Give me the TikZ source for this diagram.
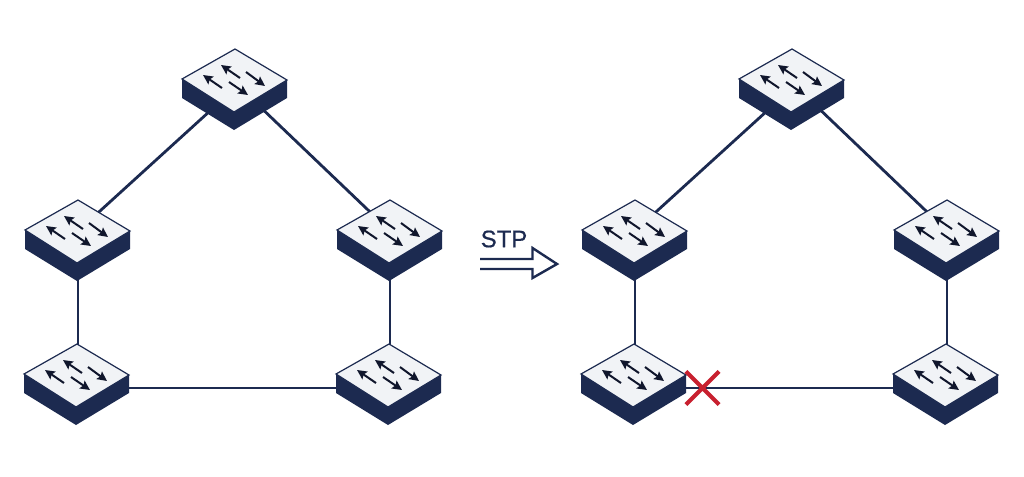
\documentclass[tikz,border=0pt]{standalone}
\usepackage{fontspec}
\setmainfont{Liberation Sans}
\newfontfamily\stpfont[FakeBold=0.6]{Liberation Sans}
\usepackage{xcolor}
\usetikzlibrary{shapes.misc, arrows.meta}
\definecolor{navy}{HTML}{1C2A50}
\definecolor{inknavy}{HTML}{10162C}
\definecolor{facegray}{HTML}{F1F3F6}
\definecolor{cutred}{HTML}{C8202F}
\tikzset{
  hub/.style={inner sep=0pt, minimum size=0pt},
  link/.style={draw=navy, line width=0.7mm},
  flow/.style={-{Stealth[length=2.4mm, width=2.3mm, inset=0.4mm]}, inknavy, line width=0.5mm},
  pics/switch/.style={code={
    \fill[navy] (-53,-1) -- (-53,18) -- (-1,50) -- (52,18) -- (52,0) -- (-1,32) -- cycle;
    \draw[navy, line width=0.3mm, fill=facegray] (0,-31) -- (52,0) -- (-1,32) -- (-53,-1) -- cycle;
    \draw[flow] (5,-2) -- (-14,-15);
    \draw[flow] (-13,8) -- (-32,-5);
    \draw[flow] (11,-8) -- (30,6);
    \draw[flow] (-6,2) -- (13,15);
  }}
}
\begin{document}
\begin{tikzpicture}[x=0.25mm, y=-0.25mm]
    \useasboundingbox (0,0) rectangle (1024,476);

    \foreach \name/\px/\py in {atop/235/80, aleft/78/231, aright/390/231, alow/77/375, blow/389/375,
                               ctop/792/80, cleft/635/231, cright/947/231, clow/634/375, dlow/946/375}
        \node[hub] (\name) at (\px,\py) {};

    \draw[link] ([xshift=2.25mm]atop.center) -- (aleft.center);
    \draw[link] ([xshift=-0.75mm]atop.center) -- (aright.center);
    \draw[link] (aleft.center) -- (aleft.center |- alow.center);
    \draw[link] (aright.center) -- (aright.center |- blow.center);
    \draw[link] ([yshift=-3.25mm]alow.center) -- ([yshift=-3.25mm]blow.center);

    \draw[link] ([xshift=2.25mm]ctop.center) -- (cleft.center);
    \draw[link] ([xshift=-0.75mm]ctop.center) -- (cright.center);
    \draw[link] (cleft.center) -- (cleft.center |- clow.center);
    \draw[link] (cright.center) -- (cright.center |- dlow.center);
    \draw[link] ([yshift=-3.25mm]clow.center) -- ([yshift=-3.25mm]dlow.center);

    \foreach \name in {atop, aleft, aright, alow, blow, ctop, cleft, cright, clow, dlow}
        \pic at (\name) {switch};

    \node[cross out, draw=cutred, line width=1mm, inner sep=0pt, minimum size=7.3mm] (cut) at (702.5,388) {};

    \node[text=navy, font=\stpfont\fontsize{17}{20}\selectfont, inner sep=0pt] (stp) at (504,239) {STP};
    \draw[navy, line width=0.6mm, fill=white] (480,259) -- (532.5,259) -- (532.5,248) -- (557,264)
        -- (532.5,278) -- (532.5,269) -- (480,269);
\end{tikzpicture}
\end{document}
